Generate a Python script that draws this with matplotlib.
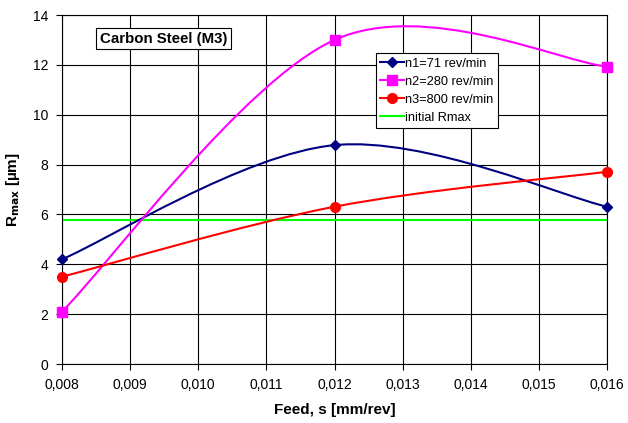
import matplotlib
matplotlib.use("Agg")
import matplotlib.pyplot as plt
from matplotlib.path import Path
from matplotlib.patches import PathPatch
from matplotlib.lines import Line2D
from matplotlib.ticker import FuncFormatter, MultipleLocator

plt.rcParams["font.family"] = ["Liberation Sans", "DejaVu Sans"]

feed = [0.008, 0.012, 0.016]
n1 = [4.2, 8.78, 6.31]
n2 = [2.1, 13.0, 11.93]
n3 = [3.5, 6.31, 7.71]
initial_rmax = 5.77
labels = ["n1=71 rev/min", "n2=280 rev/min", "n3=800 rev/min", "initial Rmax"]


def smooth_path(xs, ys):
    """Excel-like smoothed line: cubic Bezier through the points."""
    pts = list(zip(xs, ys))
    verts = [pts[0]]
    codes = [Path.MOVETO]
    for i in range(len(pts) - 1):
        p0 = pts[i - 1] if i > 0 else pts[i]
        p1 = pts[i]
        p2 = pts[i + 1]
        p3 = pts[i + 2] if i + 2 < len(pts) else pts[i + 1]
        c1 = (p1[0] + (p2[0] - p0[0]) / 6, p1[1] + (p2[1] - p0[1]) / 6)
        c2 = (p2[0] - (p3[0] - p1[0]) / 6, p2[1] - (p3[1] - p1[1]) / 6)
        verts += [c1, c2, p2]
        codes += [Path.CURVE4] * 3
    return Path(verts, codes)


fig = plt.figure(figsize=(6.28, 4.23), dpi=100)
ax = fig.add_axes([62 / 628, 1 - 364 / 423, 545 / 628, 349 / 423])

ax.set_xlim(0.008, 0.016)
ax.set_ylim(0, 14)
ax.xaxis.set_major_locator(MultipleLocator(0.001))
ax.yaxis.set_major_locator(MultipleLocator(2))
ax.xaxis.set_major_formatter(FuncFormatter(lambda v, p: f"{v:.3f}".replace(".", ",")))
ax.grid(True, color="black", linewidth=0.8)
ax.set_axisbelow(True)
for sp in ax.spines.values():
    sp.set_color("black")
    sp.set_linewidth(0.8)
ax.tick_params(labelsize=10, length=4, width=0.8, pad=6)

series = [
    (n1, "#000080", "D", 5),
    (n2, "#FF00FF", "s", 7),
    (n3, "#FF0000", "o", 7),
]
handles = []
for (vals, color, mk, ms), lab in zip(series, labels):
    ax.add_patch(PathPatch(smooth_path(feed, vals), fill=False, edgecolor=color,
                           linewidth=1.5, zorder=3))
    ax.plot(feed, vals, linestyle="none", marker=mk, markersize=ms, color=color,
            zorder=4, clip_on=False)
    handles.append(Line2D([], [], color=color, marker=mk, markersize=ms, linewidth=1.5))

ax.axhline(initial_rmax, color="#00FF00", linewidth=1.5, zorder=2)
handles.append(Line2D([], [], color="#00FF00", linewidth=1.5))

leg = ax.legend(handles, labels, loc="upper left", bbox_to_anchor=(0.576, 0.891),
                fontsize=9.2, frameon=True, fancybox=False, edgecolor="black",
                framealpha=1, borderpad=0.35, labelspacing=0.48, handlelength=1.85,
                handletextpad=0.1, numpoints=1, borderaxespad=0)
leg.get_frame().set_linewidth(0.8)

ax.text(0.187, 0.932, "Carbon Steel (M3)", transform=ax.transAxes, fontsize=10.8,
        fontweight="bold", ha="center", va="center",
        bbox=dict(boxstyle="square,pad=0.25", facecolor="white", edgecolor="black",
                  linewidth=0.8))

ax.set_xlabel("Feed, s [mm/rev]", fontsize=11, fontweight="bold", labelpad=8)
ax.set_ylabel(r"R$_{\mathbf{max}}$ [µm]", fontsize=11, fontweight="bold", labelpad=8)

fig.savefig("out.png", dpi=100)
